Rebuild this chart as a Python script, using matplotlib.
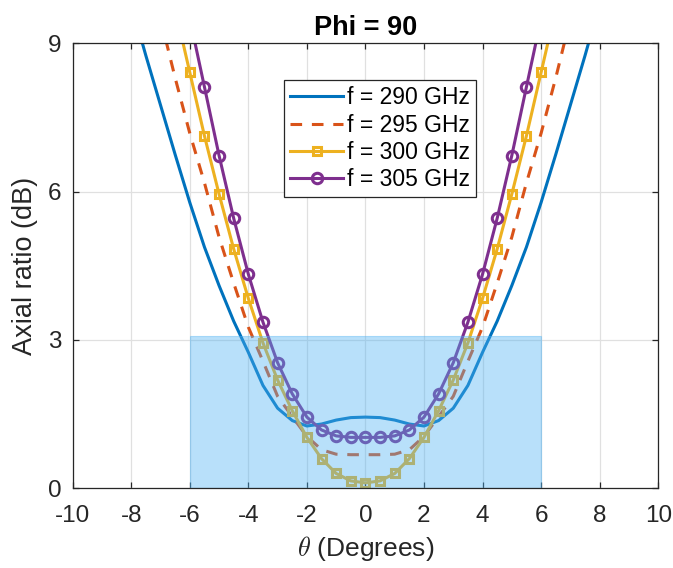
import matplotlib
matplotlib.use("Agg")
import matplotlib.pyplot as plt
from matplotlib.patches import Rectangle

plt.rcParams['font.family'] = ['Liberation Sans', 'DejaVu Sans']
plt.rcParams['mathtext.fontset'] = 'cm'

# ---- data ----
theta_290 = [-8, -7.5, -7, -6.5, -6, -5.5, -5, -4.5, -4, -3.5, -3, -2.5, -2, -1.5, -1, -0.5, 0,
             0.5, 1, 1.5, 2, 2.5, 3, 3.5, 4, 4.5, 5, 5.5, 6, 6.5, 7, 7.5, 8]
ar_290 = [9.8, 8.75, 7.75, 6.75, 5.78, 4.88, 4.1, 3.38, 2.75, 2.08, 1.62, 1.37, 1.26, 1.30, 1.38, 1.43, 1.44,
          1.43, 1.38, 1.30, 1.26, 1.37, 1.62, 2.08, 2.75, 3.38, 4.1, 4.88, 5.78, 6.75, 7.75, 8.75, 9.8]

theta_295 = [-7, -6.5, -6, -5.5, -5, -4.5, -4, -3.5, -3, -2.5, -2, -1.5, -1, -0.5, 0,
             0.5, 1, 1.5, 2, 2.5, 3, 3.5, 4, 4.5, 5, 5.5, 6, 6.5, 7]
ar_295 = [9.5, 8.3, 7.18, 6.18, 5.08, 4.15, 3.26, 2.57, 1.86, 1.45, 1.05, 0.78, 0.69, 0.68, 0.68,
          0.68, 0.69, 0.78, 1.05, 1.45, 1.86, 2.57, 3.26, 4.15, 5.08, 6.18, 7.18, 8.3, 9.5]

theta_300 = [-6.5, -6, -5.5, -5, -4.5, -4, -3.5, -3, -2.5, -2, -1.5, -1, -0.5, 0,
             0.5, 1, 1.5, 2, 2.5, 3, 3.5, 4, 4.5, 5, 5.5, 6, 6.5]
ar_300 = [9.7, 8.41, 7.13, 5.95, 4.84, 3.84, 2.94, 2.19, 1.57, 1.03, 0.60, 0.30, 0.15, 0.11,
          0.15, 0.30, 0.60, 1.03, 1.57, 2.19, 2.94, 3.84, 4.84, 5.95, 7.13, 8.41, 9.7]

theta_305 = [-6, -5.5, -5, -4.5, -4, -3.5, -3, -2.5, -2, -1.5, -1, -0.5, 0,
             0.5, 1, 1.5, 2, 2.5, 3, 3.5, 4, 4.5, 5, 5.5, 6]
ar_305 = [9.5, 8.12, 6.73, 5.46, 4.33, 3.36, 2.54, 1.91, 1.44, 1.18, 1.06, 1.03, 1.03,
          1.03, 1.06, 1.18, 1.44, 1.91, 2.54, 3.36, 4.33, 5.46, 6.73, 8.12, 9.5]

band_x = [-6, 6]
band_top = 3.08

labels = ['f = 290 GHz', 'f = 295 GHz', 'f = 300 GHz', 'f = 305 GHz']
xticks = [-10, -8, -6, -4, -2, 0, 2, 4, 6, 8, 10]
yticks = [0, 3, 6, 9]

# ---- figure ----
fig = plt.figure(figsize=(6.73, 5.68), dpi=100)
ax = fig.add_axes([0.108, 0.1403, 0.870, 0.7835])

lw = 2.2
ax.plot(theta_290, ar_290, color='#0072BD', lw=lw, label=labels[0], zorder=2)
ax.plot(theta_295, ar_295, color='#D95319', lw=lw, dashes=(3.8, 3.2), label=labels[1], zorder=2)
ax.plot(theta_300, ar_300, color='#EDB120', lw=lw, marker='s', ms=5.8, mew=2.2,
        mfc='none', label=labels[2], zorder=2)
ax.plot(theta_305, ar_305, color='#7E2F8E', lw=lw, marker='o', ms=7.5, mew=2.2,
        mfc='none', label=labels[3], zorder=2)

ax.add_patch(Rectangle((band_x[0], 0), band_x[1] - band_x[0], band_top,
                       facecolor='#4EB2F3', edgecolor='#4EB2F3', alpha=0.4,
                       lw=0.8, zorder=2.2))

ax.set_xlim(-10, 10)
ax.set_ylim(0, 9)
ax.set_xticks(xticks)
ax.set_yticks(yticks)
ax.set_xticklabels([str(t) for t in xticks])
ax.grid(True, color='#E0E0E0', lw=0.9)
ax.set_axisbelow(True)
for s in ax.spines.values():
    s.set_color('#262626')
    s.set_linewidth(0.9)
ax.tick_params(direction='in', length=4.3, width=0.9, color='#262626',
               top=True, right=True, labelsize=17.5, labelcolor='#262626')
ax.tick_params(axis='x', pad=12)
ax.tick_params(axis='y', pad=8)

ax.set_title('Phi = 90', fontsize=19.5, fontweight='bold', pad=6)
ax.set_xlabel(r'$\theta$ (Degrees)', fontsize=19, color='#262626')
ax.set_ylabel('Axial ratio (dB)', fontsize=19.5, color='#262626')
ax.xaxis.set_label_coords(0.5, -0.102)
ax.yaxis.set_label_coords(-0.060, 0.5)

leg = ax.legend(loc='upper left', bbox_to_anchor=(0.361, 0.9175), fontsize=16.5,
                frameon=True, fancybox=False, framealpha=1, edgecolor='#262626',
                handlelength=2.3, handletextpad=0.15, labelspacing=0.18,
                borderpad=0.28, borderaxespad=0)
leg.get_frame().set_linewidth(0.9)
leg.set_zorder(5)

fig.savefig('out.png', dpi=100)
